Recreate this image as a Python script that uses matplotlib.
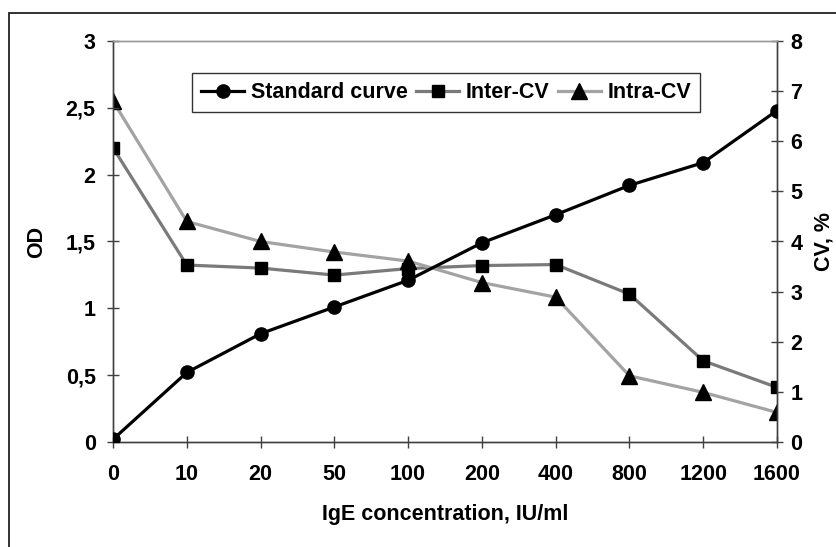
import matplotlib.pyplot as plt
from matplotlib.patches import Rectangle
from matplotlib.ticker import FuncFormatter

plt.rcParams['font.family'] = ['Liberation Sans', 'DejaVu Sans']
plt.rcParams['font.weight'] = 'bold'

# données
concentrations = ["0", "10", "20", "50", "100", "200", "400", "800", "1200", "1600"]
standard_od = [0.02, 0.52, 0.81, 1.01, 1.21, 1.49, 1.70, 1.92, 2.09, 2.48]
inter_cv = [5.87, 3.53, 3.47, 3.33, 3.46, 3.52, 3.54, 2.95, 1.62, 1.09]
intra_cv = [6.80, 4.40, 4.00, 3.79, 3.61, 3.18, 2.89, 1.32, 0.99, 0.59]

x = list(range(len(concentrations)))
fs = 15.5

fig = plt.figure(figsize=(8.37, 5.47), dpi=100)
ax = fig.add_axes([113/837, 1 - 442/547, (777 - 113)/837, (442 - 41)/547])
ax2 = ax.twinx()

# cadre extérieur du graphique (coupé à droite et en bas)
fig.patches.append(Rectangle((9/837, -0.05), 1.2, 1 - 13/547 + 0.05,
                             transform=fig.transFigure, fill=False,
                             edgecolor='#222222', linewidth=1.3))

l1, = ax.plot(x, standard_od, '-o', color='black', lw=2.3, ms=9.5,
              label="Standard curve", zorder=5)
l2, = ax2.plot(x, inter_cv, '-s', color='#7a7a7a', mfc='black', mec='black',
               lw=2.3, ms=8.5, label="Inter-CV")
l3, = ax2.plot(x, intra_cv, '-^', color='#a3a3a3', mfc='black', mec='black',
               lw=2.3, ms=11.5, label="Intra-CV")
ax.set_zorder(ax2.get_zorder() + 1)
ax.patch.set_visible(False)

ax.set_xlim(0, 9)
ax.set_ylim(0, 3)
ax2.set_ylim(0, 8)
ax.set_xticks(x)
ax.set_xticklabels(concentrations)
ax.set_yticks([0, 0.5, 1, 1.5, 2, 2.5, 3])
ax.yaxis.set_major_formatter(FuncFormatter(lambda v, p: f"{v:g}".replace(".", ",")))
ax2.set_yticks(range(0, 9))

for a in (ax, ax2):
    a.tick_params(direction='inout', length=9, width=1, color='#404040',
                  labelsize=fs)
    for s in a.spines.values():
        s.set_color('#404040')
        s.set_linewidth(1)
ax.spines['top'].set_color('#999999')
ax2.spines['top'].set_color('#999999')
ax.tick_params(axis='x', pad=11)
ax.tick_params(axis='y', pad=8)
ax2.tick_params(axis='y', pad=5)

ax.set_ylabel("OD", fontsize=fs, fontweight='bold', labelpad=13)
ax2.set_ylabel("CV, %", fontsize=fs, fontweight='bold', labelpad=8)
ax.set_xlabel("IgE concentration, IU/ml", fontsize=fs, fontweight='bold', labelpad=14)

leg = ax.legend(handles=[l1, l2, l3], loc='upper left',
                bbox_to_anchor=((192 - 113)/664, 1 - (73 - 41)/401),
                ncol=3, frameon=True, fancybox=False, edgecolor='black',
                fontsize=fs, handlelength=2.0, handletextpad=0.3,
                columnspacing=0.4, borderpad=0.42, borderaxespad=0)
leg.get_frame().set_linewidth(1)

fig.savefig("out.png", dpi=100)
